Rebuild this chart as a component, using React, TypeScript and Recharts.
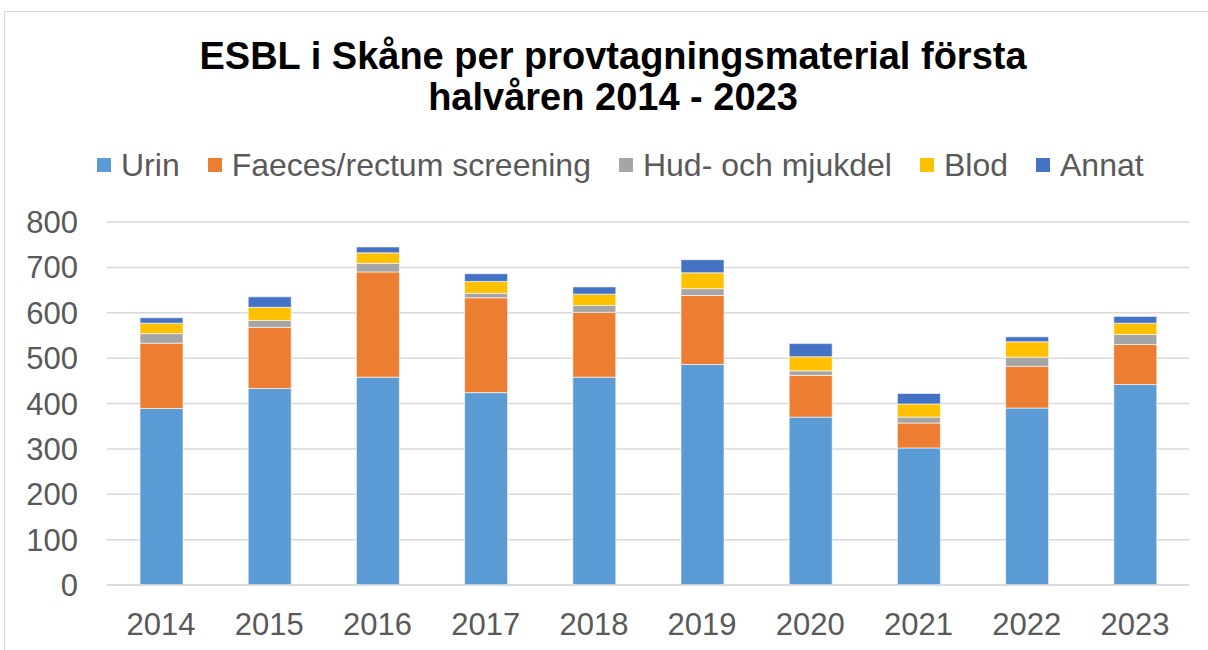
import React from "react";
import { BarChart, Bar, XAxis, YAxis, CartesianGrid } from "recharts";

const years = ["2014", "2015", "2016", "2017", "2018", "2019", "2020", "2021", "2022", "2023"];
const urin = [389, 433, 458, 424, 458, 486, 370, 302, 390, 442];
const faeces = [144, 135, 232, 209, 143, 152, 92, 55, 92, 88];
const hud = [21, 15, 19, 10, 15, 15, 10, 13, 20, 22];
const blod = [23, 29, 23, 26, 25, 35, 31, 29, 34, 25];
const annat = [12, 23, 13, 17, 16, 29, 29, 23, 11, 15];
const yTicks = [0, 100, 200, 300, 400, 500, 600, 700, 800];

const series = [
  { key: "urin", name: "Urin", color: "#5B9BD5" },
  { key: "faeces", name: "Faeces/rectum screening", color: "#ED7D31" },
  { key: "hud", name: "Hud- och mjukdel", color: "#A5A5A5" },
  { key: "blod", name: "Blod", color: "#FFC000" },
  { key: "annat", name: "Annat", color: "#4472C4" },
];

const data = years.map((year, i) => ({
  year,
  urin: urin[i],
  faeces: faeces[i],
  hud: hud[i],
  blod: blod[i],
  annat: annat[i],
}));

const FONT = '"Liberation Sans", Arial, sans-serif';
const TEXT = "#595959";

export default function App() {
  return (
    <div style={{ position: "absolute", left: 0, top: 0, width: 1208, height: 650, overflow: "hidden", background: "#fff", fontFamily: FONT }}>
      {/* chart frame */}
      <div style={{ position: "absolute", left: 4, top: 11, width: 1220, height: 660, border: "1.5px solid #d9d9d9" }} />

      <BarChart width={1208} height={650} data={data} margin={{ top: 222, right: 19, bottom: 5, left: 0 }}>
        <CartesianGrid vertical={false} stroke="#d9d9d9" strokeWidth={1.5} />
        <XAxis
          dataKey="year"
          height={60}
          axisLine={{ stroke: "#d9d9d9", strokeWidth: 1.5 }}
          tickLine={false}
          tickMargin={22}
          tick={{ fill: TEXT, fontSize: 31, fontFamily: FONT }}
        />
        <YAxis
          width={107}
          domain={[0, 800]}
          ticks={yTicks}
          axisLine={false}
          tickLine={false}
          tickMargin={23}
          tick={{ fill: TEXT, fontSize: 31, fontFamily: FONT }}
        />
        {series.map((s) => (
          <Bar
            key={s.key}
            dataKey={s.key}
            name={s.name}
            stackId="a"
            fill={s.color}
            barSize={43}
            stroke="#ffffff"
            strokeOpacity={0.6}
            strokeWidth={1}
            isAnimationActive={false}
          />
        ))}
      </BarChart>

      {/* title */}
      <div
        style={{
          position: "absolute",
          left: 0,
          top: 36,
          width: 1226,
          textAlign: "center",
          fontSize: 38,
          lineHeight: "41px",
          fontWeight: "bold",
          color: "#000",
        }}
      >
        ESBL i Skåne per provtagningsmaterial första
        <br />
        halvåren 2014 - 2023
      </div>

      {/* legend */}
      <div style={{ position: "absolute", left: 97, top: 149, display: "flex", alignItems: "center", gap: 28 }}>
        {series.map((s) => (
          <div key={s.key} style={{ display: "flex", alignItems: "center" }}>
            <span style={{ display: "inline-block", width: 14, height: 14, background: s.color, marginRight: 10 }} />
            <span style={{ fontSize: 32, lineHeight: "32px", color: TEXT }}>{s.name}</span>
          </div>
        ))}
      </div>
    </div>
  );
}
